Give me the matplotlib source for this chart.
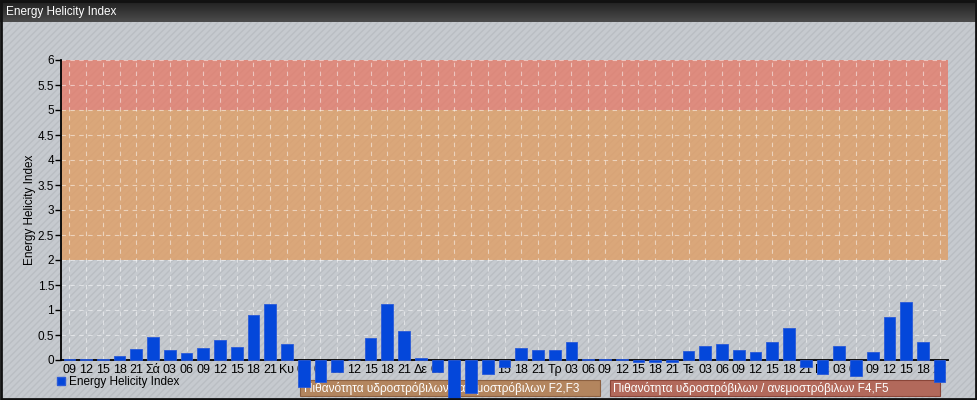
import numpy as np
import matplotlib
matplotlib.use("Agg")
import matplotlib.pyplot as plt
from matplotlib.patches import Rectangle
from matplotlib.lines import Line2D

plt.rcParams['font.family'] = ['Liberation Sans', 'DejaVu Sans']
plt.rcParams['hatch.linewidth'] = 1.0

# data
tick_labels = ["09", "12", "15", "18", "21", "Σά", "03", "06", "09", "12", "15", "18", "21",
               "Κυ", "03", "06", "09", "12", "15", "18", "21",
               "Δε", "03", "06", "09", "12", "15", "18", "21",
               "Τρ", "03", "06", "09", "12", "15", "18", "21",
               "Τε", "03", "06", "09", "12", "15", "18", "21",
               "Πε", "03", "06", "09", "12", "15", "18", "21"]
ehi_values = [0.02, 0.03, 0.02, 0.08, 0.23, 0.47, 0.20, 0.14, 0.25, 0.40, 0.27, 0.91, 1.13, 0.32,
              -0.53, -0.43, -0.23, 0.01, 0.45, 1.12, 0.58, 0.05, -0.23, -0.75, -0.65, -0.28,
              -0.13, 0.25, 0.20, 0.20, 0.36, 0.02, 0.02, 0.02, -0.03, -0.03,
              -0.03, 0.18, 0.29, 0.33, 0.20, 0.17, 0.37, 0.65, -0.13, -0.27, 0.29, -0.31,
              0.17, 0.87, 1.17, 0.37, -0.43]
risk_bands = [(2, 5, "#e39a5a"), (5, 6, "#e87460")]
risk_labels = ["Πιθανότητα υδροστρόβιλων / ανεμοστρόβιλων F2,F3",
               "Πιθανότητα υδροστρόβιλων / ανεμοστρόβιλων F4,F5"]
risk_spans = [(13.8, 31.7), (32.3, 52.0)]
risk_colors = [("#b3855e", "#8c6040"), ("#b2695b", "#8a4538")]

fig = plt.figure(figsize=(9.78, 4.0), dpi=100)
fig.patch.set_facecolor("#c6cacf")

# hatched background
bg = Rectangle((0, 0), 1, 1, transform=fig.transFigure, facecolor="#c6cacf",
               edgecolor="#babec3", hatch="/////", linewidth=0, zorder=-10)
fig.patches.append(bg)

# title bar
tax = fig.add_axes([0, 1 - 22 / 400, 1, 22 / 400])
grad = np.linspace(0, 1, 50).reshape(-1, 1)
tax.imshow(grad, aspect="auto", cmap=matplotlib.colors.LinearSegmentedColormap.from_list(
    "tb", ["#1e1e1e", "#4c4c4c"]), extent=(0, 1, 0, 1), origin="upper")
tax.set_axis_off()
tax.text(0.006, 0.45, "Energy Helicity Index", color="white", fontsize=8.5,
         va="center", ha="left", transform=tax.transAxes)

# frame
fig.patches.append(Rectangle((0.001, 0.002), 0.997, 0.996, transform=fig.transFigure,
                             fill=False, edgecolor="#111111", linewidth=2, zorder=10))

ax = fig.add_axes([61 / 978, 0.1, 887 / 978, 0.75])
ax.patch.set_alpha(0)
x = np.arange(len(ehi_values))

for lo, hi, c in risk_bands:
    ax.axhspan(lo, hi, color=c, alpha=0.72, linewidth=0, zorder=0.5)

ax.bar(x, ehi_values, width=0.7, color="#0447da", edgecolor="#2a5ad8", linewidth=0.6,
       zorder=3, clip_on=False)

ax.set_xlim(-0.5, 52.5)
ax.set_ylim(0, 6)
ax.set_xticks(x)
ax.set_xticklabels(tick_labels, fontsize=9)
ax.set_yticks(np.arange(0, 6.5, 0.5))
ax.set_yticklabels([f"{v:g}" for v in np.arange(0, 6.5, 0.5)], fontsize=8.5)
ax.tick_params(axis="x", length=0, pad=3)
ax.tick_params(axis="y", length=4, width=1, pad=1)
ax.grid(True, color="white", linestyle=(0, (4, 4)), linewidth=0.8, alpha=0.5)
for s in ["top", "right"]:
    ax.spines[s].set_visible(False)
ax.spines["left"].set_linewidth(1.3)
ax.spines["bottom"].set_linewidth(1.3)
ax.set_ylabel("Energy Helicity Index", fontsize=8.5, labelpad=1)

# risk boxes below the axis
tr = ax.get_xaxis_transform()
for (x0, x1), label, (fc, ec) in zip(risk_spans, risk_labels, risk_colors):
    ax.add_patch(Rectangle((x0, -0.12), x1 - x0, 0.053, transform=tr, facecolor=fc,
                           edgecolor=ec, linewidth=0.8, clip_on=False, zorder=2.8))
    ax.text(x0 + 0.2, -0.094, label, transform=tr, color="white", fontsize=8.5,
            va="center", ha="left", clip_on=False, zorder=2.9)

handle = Line2D([], [], marker="s", color="none", markerfacecolor="#0447da",
                markeredgecolor="#2a5ad8", markersize=5.5)
ax.legend([handle], ["Energy Helicity Index"], loc="upper left",
          bbox_to_anchor=(-0.012, -0.035), frameon=False, fontsize=8.5,
          handlelength=0.8, handletextpad=0.3, borderpad=0)

fig.savefig("out.png", dpi=100, facecolor=fig.get_facecolor())
